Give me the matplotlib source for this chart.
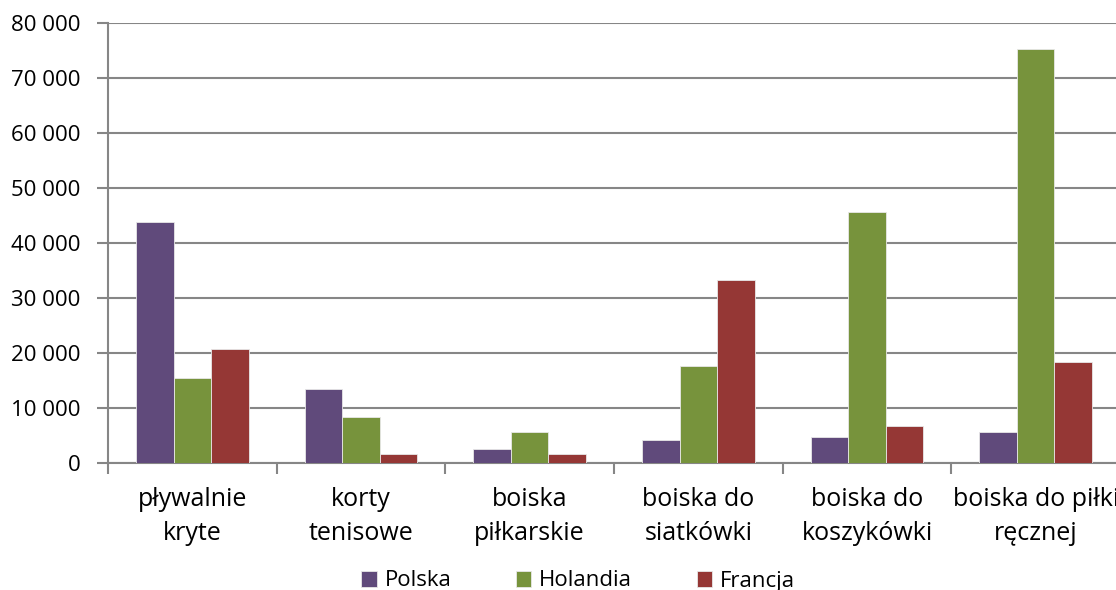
import matplotlib
matplotlib.use("Agg")
import matplotlib.pyplot as plt
import numpy as np
from matplotlib.ticker import FuncFormatter, MultipleLocator

categories = ["pływalnie\nkryte", "korty\ntenisowe", "boiska\npiłkarskie",
              "boiska do\nsiatkówki", "boiska do\nkoszykówki", "boiska do piłki\nręcznej"]
series_names = ["Polska", "Holandia", "Francja"]
polska = [43700, 13400, 2490, 4120, 4730, 5700]
holandia = [15400, 8420, 5640, 17640, 45580, 75270]
francja = [20730, 1580, 1700, 33220, 6730, 18310]
colors = ["#604A7B", "#77933C", "#953735"]

plt.rcParams['font.family'] = ['Open Sans', 'DejaVu Sans']

fig = plt.figure(figsize=(11.16, 5.90), dpi=100)
ax = fig.add_axes([108/1116, 1 - 463/590, 1012/1116, (463 - 22.7)/590])

x = np.arange(len(categories))
w = 1/4.5
for i, (vals, name, c) in enumerate(zip([polska, holandia, francja], series_names, colors)):
    ax.bar(x + (i - 1) * w, vals, width=w, color=c, label=name,
           edgecolor="#e8e8e8", linewidth=0.6, zorder=3)

ax.set_xlim(-0.5, len(categories) - 0.5)
ax.set_ylim(0, 80000)
ax.yaxis.set_major_locator(MultipleLocator(10000))
ax.yaxis.set_major_formatter(FuncFormatter(lambda v, p: f"{int(v):,}".replace(",", " ")))
ax.grid(axis="y", color="#868686", linewidth=1.5, zorder=0)
ax.set_axisbelow(True)

for s in ["top", "right"]:
    ax.spines[s].set_visible(False)
for s in ["left", "bottom"]:
    ax.spines[s].set_color("#868686")
    ax.spines[s].set_linewidth(1.5)

ax.set_xticks(np.arange(len(categories) + 1) - 0.5, minor=False)
ax.set_xticklabels([])
ax.set_xticks(x, minor=True)
ax.set_xticklabels(categories, minor=True, fontsize=18, linespacing=1.5)
ax.tick_params(axis="x", which="major", length=8, width=1.5, color="#868686", direction="out")
ax.tick_params(axis="x", which="minor", length=0, pad=17)
ax.tick_params(axis="y", length=8, width=1.5, color="#868686", labelsize=16, pad=12)

fig.legend(loc="center", bbox_to_anchor=(0.518, 1 - 581/590), ncol=3, frameon=False,
           fontsize=16, handlelength=0.7, handleheight=0.7, handletextpad=0.35,
           columnspacing=2.9, borderpad=0)

fig.savefig("out.png", dpi=100)
